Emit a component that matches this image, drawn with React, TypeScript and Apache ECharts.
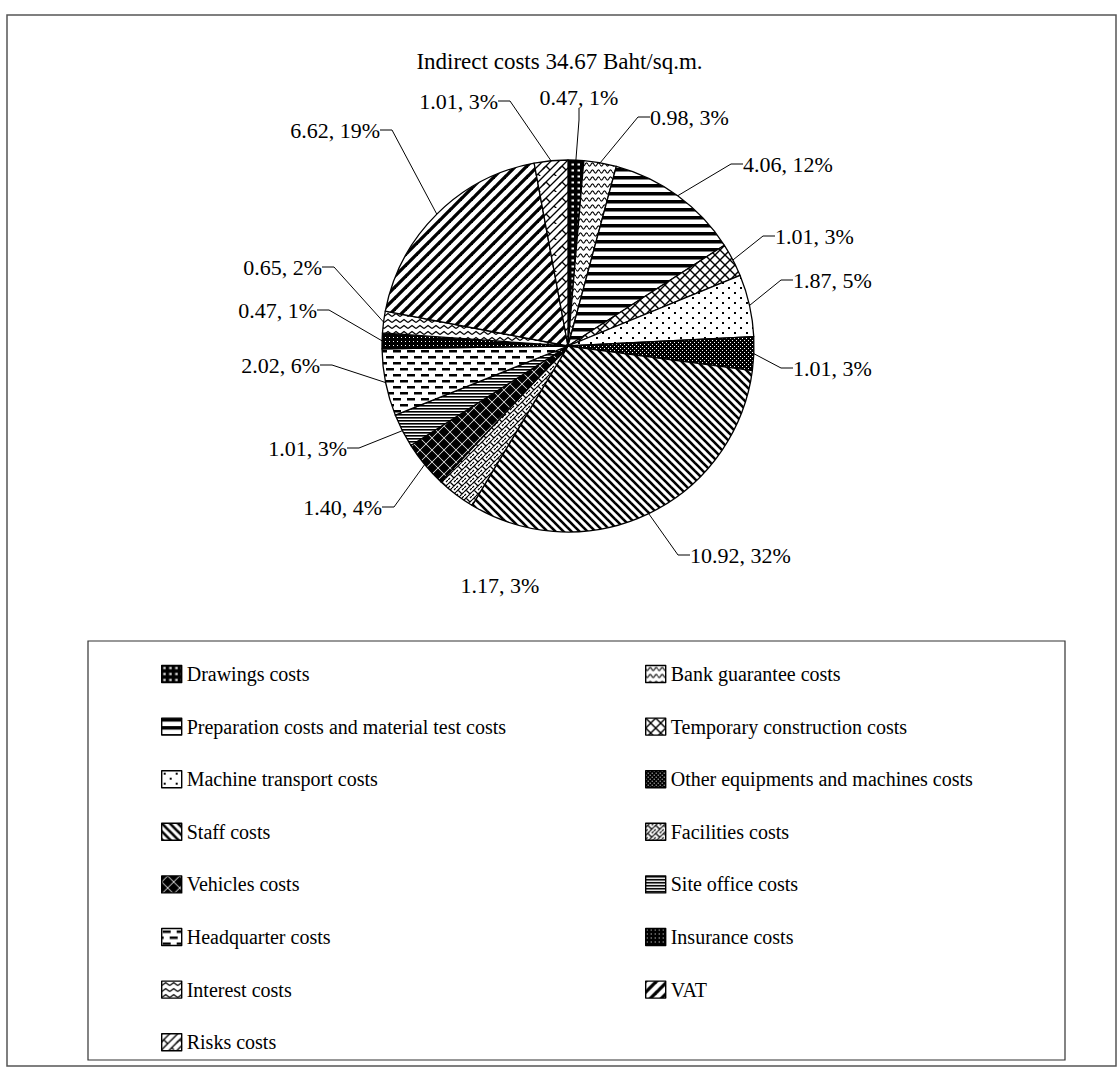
import React, { useEffect, useRef } from "react";
import * as echarts from "echarts";

// Indirect cost breakdown, Baht per square metre
const categories = [
  "Drawings costs",
  "Bank guarantee costs",
  "Preparation costs and material test costs",
  "Temporary construction costs",
  "Machine transport costs",
  "Other equipments and machines costs",
  "Staff costs",
  "Facilities costs",
  "Vehicles costs",
  "Site office costs",
  "Headquarter costs",
  "Insurance costs",
  "Interest costs",
  "VAT",
  "Risks costs",
];
const costs = [0.47, 0.98, 4.06, 1.01, 1.87, 1.01, 10.92, 1.17, 1.4, 1.01, 2.02, 0.47, 0.65, 6.62, 1.01];
const hatchKinds = [
  "darkDots", "waves", "hLines", "diagGrid", "sparseDots", "darkFine", "backDiag",
  "weave", "diamonds", "denseLines", "dashes", "darkest", "zigzag", "fwdDiag", "brick",
];
const legendLeftItems = [
  "Drawings costs",
  "Preparation costs and material test costs",
  "Machine transport costs",
  "Staff costs",
  "Vehicles costs",
  "Headquarter costs",
  "Interest costs",
  "Risks costs",
];
const legendRightItems = [
  "Bank guarantee costs",
  "Temporary construction costs",
  "Other equipments and machines costs",
  "Facilities costs",
  "Site office costs",
  "Insurance costs",
  "VAT",
];
const chartTitle = "Indirect costs 34.67 Baht/sq.m.";

// Where each slice's value label sits (anchor x, anchor y, text alignment);
// leader lines are then routed by ECharts to the nearest point of the slice.
const labelSpots: [number, number, "left" | "right" | "center"][] = [
  [579, 97, "center"],
  [650, 117, "left"],
  [743, 164, "left"],
  [775, 236, "left"],
  [793, 280, "left"],
  [793, 368, "left"],
  [690, 555, "left"],
  [500, 585, "center"],
  [382, 507, "right"],
  [347, 448, "right"],
  [320, 365, "right"],
  [317, 310, "right"],
  [322, 267, "right"],
  [380, 130, "right"],
  [498, 101, "right"],
];
// the Facilities label floats under the pie without a leader line
const hiddenLeader = ["Facilities costs"];

const FONT = "'Liberation Serif', 'Times New Roman', serif";

// Black-and-white hatch tiles used as pattern fills
function makeTile(kind: string): HTMLCanvasElement {
  const sizes: Record<string, [number, number]> = {
    darkDots: [6, 6], waves: [12, 7], hLines: [4, 8], diagGrid: [10, 10],
    sparseDots: [12, 10], darkFine: [4, 4], backDiag: [8, 8], weave: [8, 8],
    diamonds: [12, 12], denseLines: [4, 3], dashes: [14, 12], darkest: [4, 4],
    zigzag: [8, 6], fwdDiag: [11, 11], brick: [16, 16],
  };
  const [w, h] = sizes[kind];
  const c = document.createElement("canvas");
  c.width = w;
  c.height = h;
  const g = c.getContext("2d")!;
  g.fillStyle = "#fff";
  g.fillRect(0, 0, w, h);
  g.fillStyle = "#000";
  g.strokeStyle = "#000";
  const line = (x1: number, y1: number, x2: number, y2: number, lw: number) => {
    g.lineWidth = lw;
    g.beginPath();
    g.moveTo(x1, y1);
    g.lineTo(x2, y2);
    g.stroke();
  };
  switch (kind) {
    case "darkDots":
      g.fillRect(0, 0, w, h);
      g.fillStyle = "#fff";
      g.fillRect(1.5, 1.5, 2.5, 2);
      break;
    case "waves":
      g.lineWidth = 1.1;
      g.beginPath();
      for (let x = 0; x <= w; x += 0.5) {
        const y = 3.5 + 1.6 * Math.sin((2 * Math.PI * x) / 6);
        if (x === 0) g.moveTo(x, y);
        else g.lineTo(x, y);
      }
      g.stroke();
      break;
    case "hLines":
      g.fillRect(0, 0, w, 3.5);
      break;
    case "diagGrid":
      for (let k = -1; k <= 1; k++) {
        line(k * w - 1, -1, k * w + w + 1, h + 1, 1.4);
        line(k * w - 1, h + 1, k * w + w + 1, -1, 1.4);
      }
      break;
    case "sparseDots":
      g.fillRect(2, 2, 2, 2);
      g.fillRect(8, 7, 2, 2);
      break;
    case "darkFine":
      g.fillRect(0, 0, w, h);
      g.fillStyle = "#fff";
      g.fillRect(0, 0, 1, 1);
      g.fillRect(2, 2, 1, 1);
      break;
    case "backDiag":
      for (let k = -1; k <= 1; k++) line(k * w - 1, -1, k * w + w + 1, h + 1, 2.6);
      break;
    case "weave":
      g.lineWidth = 1.2;
      g.beginPath();
      g.moveTo(0, 4);
      g.lineTo(4, 0);
      g.moveTo(4, 8);
      g.lineTo(8, 4);
      g.moveTo(2, 2);
      g.lineTo(6, 6);
      g.moveTo(0, 8);
      g.lineTo(2, 6);
      g.moveTo(6, 2);
      g.lineTo(8, 0);
      g.stroke();
      break;
    case "diamonds": {
      const d = 5.5;
      const centers = [[6, 6], [0, 0], [12, 0], [0, 12], [12, 12]];
      for (const [cx, cy] of centers) {
        g.beginPath();
        g.moveTo(cx, cy - d);
        g.lineTo(cx + d, cy);
        g.lineTo(cx, cy + d);
        g.lineTo(cx - d, cy);
        g.closePath();
        g.fill();
      }
      break;
    }
    case "denseLines":
      g.fillRect(0, 0, w, 1.6);
      break;
    case "dashes":
      g.fillRect(1, 2, 8, 2.5);
      g.fillRect(8, 8, 8, 2.5);
      g.fillRect(-6, 8, 8, 2.5);
      break;
    case "darkest":
      g.fillRect(0, 0, w, h);
      g.fillStyle = "#fff";
      g.fillRect(1, 1, 1, 1);
      break;
    case "zigzag":
      g.lineWidth = 1.3;
      g.beginPath();
      g.moveTo(0, 4.5);
      g.lineTo(4, 1.5);
      g.lineTo(8, 4.5);
      g.stroke();
      break;
    case "fwdDiag":
      for (let k = -1; k <= 1; k++) line(k * w - 1, h + 1, k * w + w + 1, -1, 3.3);
      break;
    case "brick":
      for (let k = -1; k <= 1; k++) {
        line(k * w - 1, h + 1, k * w + w + 1, -1, 1.3);
        line(k * w - 1, h / 2 + 1, k * w + w / 2 + 1, -1, 1.3);
        line(k * w + w / 2 - 1, h + 1, k * w + w + 1, h / 2 - 1, 1.3);
      }
      line(2, 6, 6, 10, 1.3);
      line(10, 14, 14, 18, 1.3);
      break;
  }
  return c;
}

export default function App() {
  const ref = useRef<HTMLDivElement>(null);

  useEffect(() => {
    if (!ref.current) return;
    const chart = echarts.init(ref.current, undefined, { renderer: "svg" });

    const data = categories.map((name, i) => ({
      name,
      value: costs[i],
      itemStyle: {
        color: { image: makeTile(hatchKinds[i]), repeat: "repeat" } as any,
      },
      labelLine: { show: !hiddenLeader.includes(name) },
    }));

    const legendCommon = {
      orient: "vertical" as const,
      icon: "rect",
      itemWidth: 20,
      itemHeight: 17,
      itemGap: 32.6,
      top: 659,
      selectedMode: false,
      textStyle: { fontFamily: FONT, fontSize: 20, color: "#000", lineHeight: 20 },
      itemStyle: { borderColor: "#000", borderWidth: 1.4 },
    };

    chart.setOption({
      animation: false,
      backgroundColor: "#fff",
      title: {
        text: chartTitle,
        left: "center",
        top: 45,
        textStyle: { fontFamily: FONT, fontSize: 23, fontWeight: "normal", color: "#000" },
      },
      legend: [
        { ...legendCommon, left: 156, data: legendLeftItems },
        { ...legendCommon, left: 640, data: legendRightItems },
      ],
      graphic: [
        {
          type: "rect",
          shape: { x: 7, y: 15, width: 1109, height: 1051 },
          style: { fill: "none", stroke: "#555", lineWidth: 1.5 },
          silent: true,
        },
        {
          type: "rect",
          shape: { x: 88, y: 641, width: 977, height: 419 },
          style: { fill: "none", stroke: "#333", lineWidth: 1.2 },
          silent: true,
        },
      ],
      series: [
        {
          type: "pie",
          center: [568, 346],
          radius: 186,
          startAngle: 90,
          clockwise: true,
          percentPrecision: 0,
          avoidLabelOverlap: false,
          emphasis: { disabled: true },
          itemStyle: { borderColor: "#000", borderWidth: 1.3 },
          label: {
            show: true,
            position: "outside",
            fontFamily: FONT,
            fontSize: 22,
            color: "#000",
            formatter: (p: any) => `${Number(p.value).toFixed(2)}, ${p.percent}%`,
          },
          labelLine: {
            show: true,
            length: 30,
            length2: 12,
            lineStyle: { color: "#000", width: 1 },
          },
          labelLayout: (params: any) => {
            const spot = labelSpots[params.dataIndex];
            return {
              x: spot[0],
              y: spot[1],
              align: spot[2],
              verticalAlign: "middle",
            };
          },
          data,
        },
      ],
    });

    return () => chart.dispose();
  }, []);

  return (
    <div
      ref={ref}
      style={{ position: "absolute", left: 0, top: 0, width: 1119, height: 1069 }}
    />
  );
}
